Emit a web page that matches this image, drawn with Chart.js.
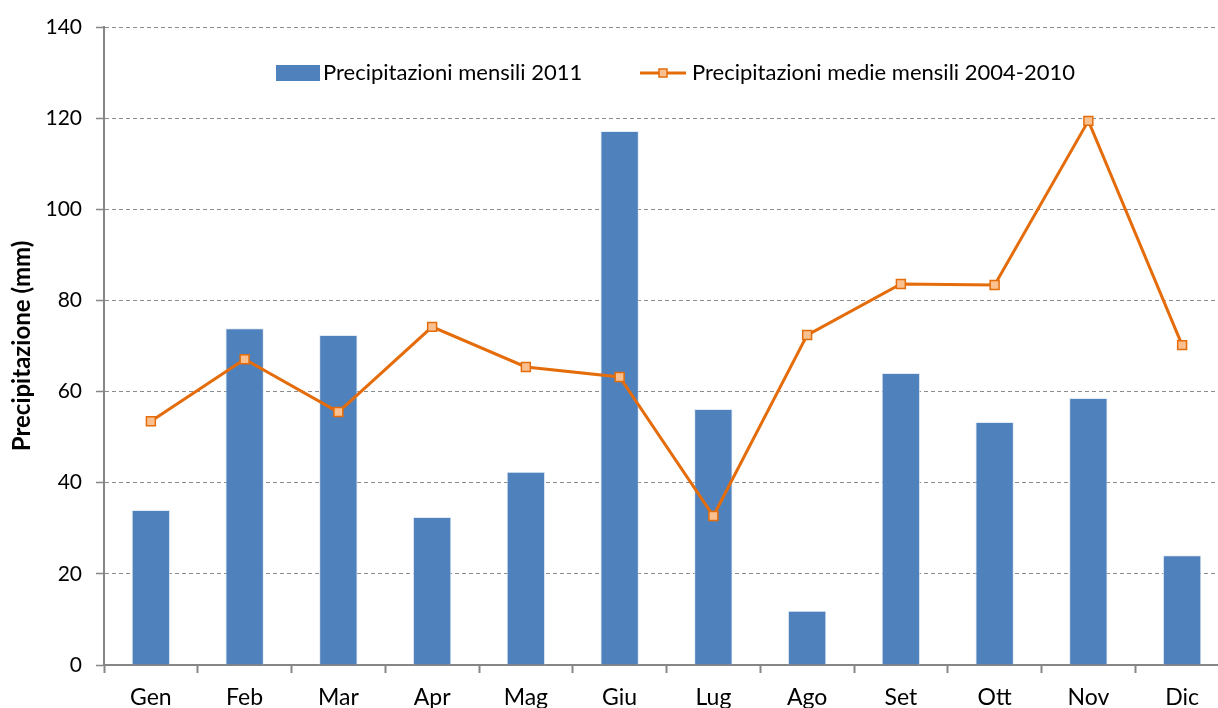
<!DOCTYPE html>
<html>
<head>
<meta charset="utf-8">
<script src="https://cdn.jsdelivr.net/npm/chart.js@4"></script>
<style>
  html, body { margin: 0; padding: 0; background: #fff; overflow: hidden; }
  #wrap { width: 1218px; height: 708px; overflow: hidden; }
</style>
</head>
<body>
<div id="wrap"><canvas id="chart" width="1240" height="720" style="width:1240px;height:720px"></canvas></div>
<script>
const months = ["Gen", "Feb", "Mar", "Apr", "Mag", "Giu", "Lug", "Ago", "Set", "Ott", "Nov", "Dic"];
const rain2011 = [34.0, 73.9, 72.4, 32.5, 42.4, 117.2, 56.2, 11.9, 64.1, 53.3, 58.6, 24.1];
const rainMean = [53.5, 67.1, 55.5, 74.2, 65.4, 63.2, 32.7, 72.4, 83.6, 83.4, 119.4, 70.2];
const barLabel = "Precipitazioni mensili 2011";
const lineLabel = "Precipitazioni medie mensili 2004-2010";
const yTitle = "Precipitazione (mm)";

const FONT = "Lato, 'Open Sans', sans-serif";
const barColor = "#4F81BD";
const lineColor = "#E46C0A";
const markerFill = "#FAC090";

// legend drawn inside the plot area, like the spreadsheet original
const insideLegend = {
  id: "insideLegend",
  afterDraw(chart) {
    const ctx = chart.ctx;
    ctx.save();
    ctx.font = "22px " + FONT;
    ctx.textBaseline = "middle";
    const y = 73;

    ctx.fillStyle = barColor;
    ctx.fillRect(276, 65, 44, 16);
    ctx.fillStyle = "#000";
    ctx.fillText(chart.data.datasets[1].label, 323, y);

    ctx.strokeStyle = lineColor;
    ctx.lineWidth = 3;
    ctx.beginPath();
    ctx.moveTo(640, y);
    ctx.lineTo(686, y);
    ctx.stroke();
    ctx.fillStyle = markerFill;
    ctx.fillRect(659, 69, 8, 8);
    ctx.lineWidth = 1.5;
    ctx.strokeRect(659, 69, 8, 8);
    ctx.fillStyle = "#000";
    ctx.fillText(chart.data.datasets[0].label, 692, y);
    ctx.restore();
  }
};

new Chart(document.getElementById("chart"), {
  data: {
    labels: months,
    datasets: [
      {
        type: "line",
        label: lineLabel,
        data: rainMean,
        order: 0,
        borderColor: lineColor,
        borderWidth: 3,
        tension: 0,
        pointStyle: "rect",
        pointRadius: 6.3,
        pointBackgroundColor: markerFill,
        pointBorderColor: lineColor,
        pointBorderWidth: 1.5
      },
      {
        type: "bar",
        label: barLabel,
        data: rain2011,
        order: 1,
        backgroundColor: barColor,
        borderColor: "rgba(220,230,242,0.8)",
        borderWidth: 1,
        barPercentage: 0.41,
        categoryPercentage: 1
      }
    ]
  },
  options: {
    responsive: false,
    animation: false,
    layout: { padding: { top: 27, right: 11, left: 0, bottom: 0 } },
    plugins: {
      legend: { display: false },
      tooltip: { enabled: false }
    },
    scales: {
      x: {
        offset: true,
        grid: {
          offset: true,
          drawOnChartArea: false,
          drawTicks: true,
          tickLength: 8,
          tickColor: "#868686",
          tickWidth: 2
        },
        border: { color: "#868686", width: 2 },
        ticks: {
          color: "#000",
          font: { family: FONT, size: 23 },
          padding: 11,
          maxRotation: 0
        },
        afterFit(scale) { scale.height = 55; }
      },
      y: {
        min: 0,
        max: 140,
        ticks: {
          stepSize: 20,
          color: "#000",
          font: { family: FONT, size: 21 },
          padding: 14
        },
        grid: {
          color: "#8c8c8c",
          lineWidth: 1,
          tickLength: 8,
          tickColor: "#868686",
          tickWidth: 1.5,
          tickBorderDash: []
        },
        border: { color: "#868686", width: 2, dash: [4, 3] },
        title: {
          display: true,
          text: yTitle,
          color: "#000",
          font: { family: FONT, size: 24, weight: "bold" },
          padding: { top: 8, bottom: 0 }
        },
        afterFit(scale) { scale.width = 104; }
      }
    }
  },
  plugins: [insideLegend]
});
</script>
</body>
</html>
